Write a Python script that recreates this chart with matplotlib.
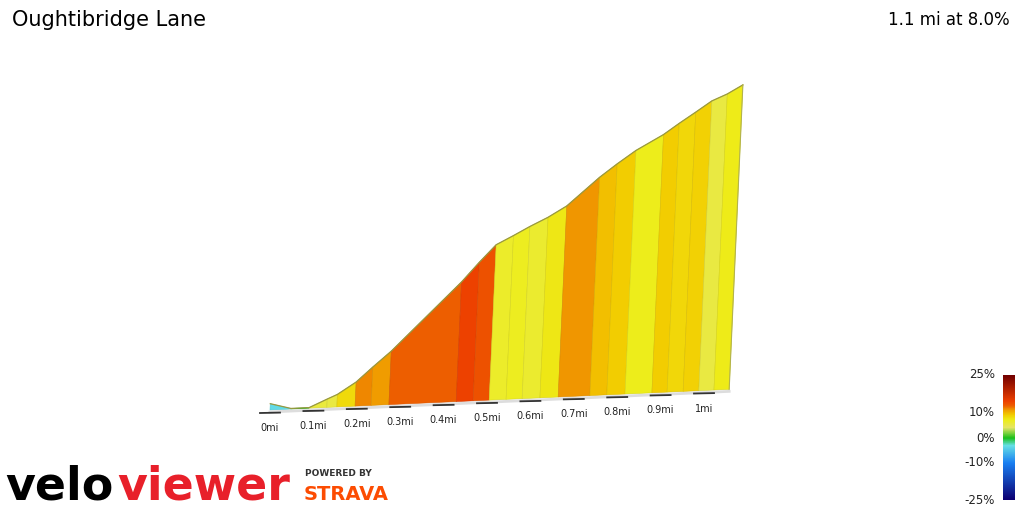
import matplotlib
matplotlib.use("Agg")
import matplotlib.pyplot as plt
import numpy as np
from matplotlib.colors import LinearSegmentedColormap, Normalize
from matplotlib.patches import Polygon

title = "Oughtibridge Lane"
summary = "1.1 mi at 8.0%"
# distance (mi) and elevation (m) at stripe boundaries
dist = [0.0, 0.048, 0.090, 0.131, 0.154, 0.196, 0.233, 0.274, 0.429, 0.468, 0.505,
        0.544, 0.581, 0.622, 0.664, 0.737, 0.776, 0.818, 0.880, 0.915, 0.952, 0.988, 1.023, 1.058]
elev = [3.0, 0.3, 0.3, 4.0, 6, 11.5, 18.3, 25.5, 57, 66, 74, 78, 82, 86, 91, 104, 110, 116, 123,
        128, 133, 138, 141, 145]
tick_miles = [0, 0.1, 0.2, 0.3, 0.4, 0.5, 0.6, 0.7, 0.8, 0.9, 1.0]
tick_labels = ["0mi", "0.1mi", "0.2mi", "0.3mi", "0.4mi", "0.5mi", "0.6mi", "0.7mi", "0.8mi", "0.9mi", "1mi"]
cbar_vals = [25, 10, 0, -10, -25]
cbar_labels = ["25%", "10%", "0%", "-10%", "-25%"]

grade_stops = [(-25, (0.05, 0.0, 0.45)), (-10, (0.1, 0.5, 0.95)), (-3, (0.4, 0.88, 0.9)),
               (0, (0.1, 0.75, 0.1)), (4, (0.9, 0.9, 0.4)), (7, (0.93, 0.93, 0.1)),
               (9, (0.95, 0.8, 0.0)), (11, (0.94, 0.6, 0.0)), (12.5, (0.93, 0.38, 0.0)),
               (14.5, (0.93, 0.25, 0.0)), (25, (0.45, 0.0, 0.0))]
cmap = LinearSegmentedColormap.from_list(
    "g", [((g + 25) / 50, c) for g, c in grade_stops])
norm = Normalize(-25, 25)

fig = plt.figure(figsize=(10.24, 5.12), dpi=100)
ax = fig.add_axes([0, 0, 1, 1])
ax.set_xlim(0, 1024); ax.set_ylim(512, 0); ax.axis("off")

PXMI, X0, Y0, SLOPE, PXM, SHIFT = 434, 270, 410, 19.5, 2.1, 0.045
def base(d):
    return X0 + PXMI * d, Y0 - SLOPE * d
def top(d, e):
    bx, by = base(d)
    h = e * PXM
    return bx + SHIFT * h, by - h

for i in range(len(dist) - 1):
    run = (dist[i + 1] - dist[i]) * 1609.34
    g = 100 * (elev[i + 1] - elev[i]) / run
    pts = [base(dist[i]), base(dist[i + 1]), top(dist[i + 1], elev[i + 1]), top(dist[i], elev[i])]
    c = cmap(norm(g))
    ax.add_patch(Polygon(pts, closed=True, fc=c, ec=tuple(0.9 * np.array(c[:3])), lw=0.4))
tp = [top(d, e) for d, e in zip(dist, elev)]
ax.plot([p[0] for p in tp], [p[1] for p in tp], color=(0.6, 0.6, 0.25), lw=0.9)
rb, rt = base(dist[-1]), tp[-1]
ax.plot([rb[0], rt[0]], [rb[1], rt[1]], color=(0.7, 0.7, 0.3), lw=0.8)
b0, b1 = base(0), base(dist[-1])
ax.plot([b0[0], b1[0]], [b0[1] + 2, b1[1] + 2], color="#dddddd", lw=2)
for m, lab in zip(tick_miles, tick_labels):
    bx, by = base(m)
    ax.plot([bx - 10, bx + 10], [by + 3, by + 2.6], color="#333333", lw=1.3)
    ax.text(bx, by + 18, lab, ha="center", va="center", fontsize=7, color="#222222")

ax.text(12, 20, title, fontsize=15, va="center", ha="left", color="black")
ax.text(1010, 20, summary, fontsize=12, va="center", ha="right", color="black")

cax = fig.add_axes([1003 / 1024, 1 - 500 / 512, 12 / 1024, 125 / 512])
ypos = [375, 412, 438, 463, 500]
grad_px = np.linspace(375, 500, 200)
grad_vals = np.interp(grad_px, ypos, cbar_vals)
cax.imshow(grad_vals[:, None], cmap=cmap, norm=norm, aspect="auto")
cax.axis("off")
for v, lab, yp in zip(cbar_vals, cbar_labels, ypos):
    ax.text(995, yp, lab, ha="right", va="center", fontsize=8.5, color="#222222")

ax.text(5, 487, "velo", fontsize=33, fontweight="bold", color="black", va="center", ha="left")
ax.text(117, 487, "viewer", fontsize=33, fontweight="bold", color="#e8202a", va="center", ha="left")
ax.text(305, 473, "POWERED BY", fontsize=6.5, fontweight="bold", color="#333333", va="center")
ax.text(304, 494, "STRAVA", fontsize=14, fontweight="bold", color="#fc4c02", va="center")

fig.savefig("out.png", dpi=100)
